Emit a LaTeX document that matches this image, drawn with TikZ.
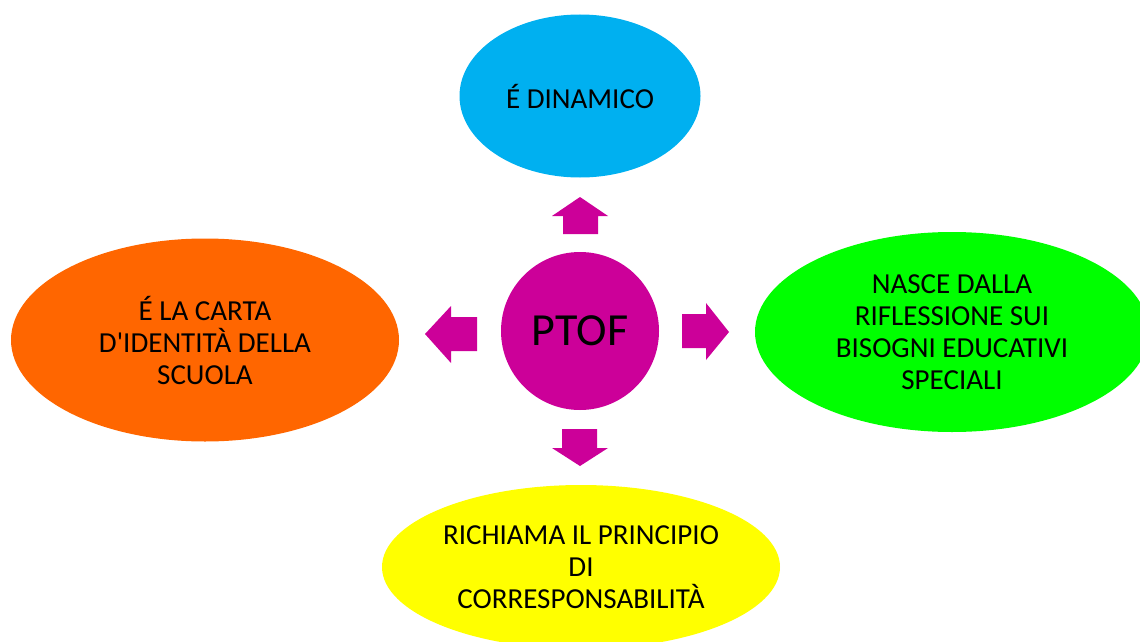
\documentclass[tikz,border=0pt]{standalone}
\usepackage{fontspec}
\setmainfont{Carlito}
\usetikzlibrary{shapes.geometric}

\definecolor{azzurro}{HTML}{00B0F0}
\definecolor{arancio}{HTML}{FF6600}
\definecolor{verde}{HTML}{00FF00}
\definecolor{giallo}{HTML}{FFFF00}
\definecolor{magenta}{HTML}{CC0099}

\tikzset{
  bolla/.style={ellipse, inner sep=0pt, align=center,
    font=\fontsize{29}{32}\selectfont},
  freccia/.style={fill=magenta, draw=none}
}

\begin{document}
\begin{tikzpicture}[x=1pt, y=-1pt]
		\useasboundingbox (0,0) rectangle (1140,642);
		\clip (0,0) rectangle (1140,642);
		\node [circle, fill=magenta, minimum size=158pt, inner sep=0pt,
		       font=\fontsize{46}{50}\selectfont] (ptof) at (580,331) {PTOF};
		\node [bolla, fill=azzurro, minimum width=241pt, minimum height=163pt] (dinamico) at (580,96) {É DINAMICO};
		\node [bolla, fill=arancio, minimum width=388pt, minimum height=203pt] (carta) at (205,340) {É LA CARTA\\D\textquotesingle IDENTITÀ DELLA\\SCUOLA};
		\node [bolla, fill=verde, minimum width=394pt, minimum height=200pt] (nasce) at (952,332) {NASCE DALLA\\RIFLESSIONE SUI\\BISOGNI EDUCATIVI\\SPECIALI};
		\node [bolla, fill=giallo, minimum width=398pt, minimum height=164pt] (richiama) at (581,567) {RICHIAMA IL PRINCIPIO\\DI\\CORRESPONSABILITÀ};
		% frecce a blocco
		\fill [freccia] (563,234) -- (563,216) -- (552,216) -- (580,197) -- (608,216) -- (598,216) -- (598,234) -- cycle;
		\fill [freccia] (477,317) -- (451,317) -- (451,306) -- (425,334) -- (451,363) -- (451,351) -- (477,351) -- cycle;
		\fill [freccia] (682,314) -- (706,314) -- (706,303) -- (729,332) -- (706,360) -- (706,348) -- (682,348) -- cycle;
		\fill [freccia] (562,429) -- (597,429) -- (597,448) -- (608,448) -- (580,466) -- (552,448) -- (562,448) -- cycle;
\end{tikzpicture}
\end{document}
